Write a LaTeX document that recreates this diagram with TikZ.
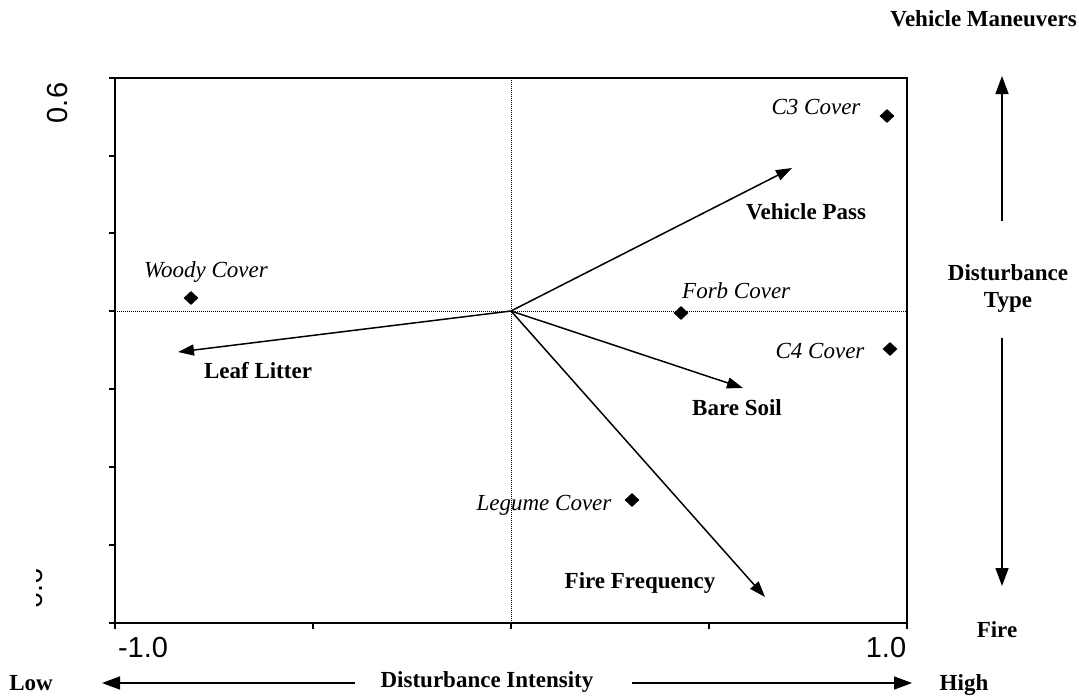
\documentclass[tikz,border=0pt]{standalone}
\usepackage{fontspec}
\setmainfont{Liberation Serif}
\newfontfamily\arialfont{Liberation Sans}
\usetikzlibrary{arrows.meta,shapes.geometric}
\begin{document}
\begin{tikzpicture}[x=1pt,y=-1pt,
  vec/.style={line width=1.5pt,-{Triangle[length=16pt,width=11pt]}},
  axarrow/.style={line width=1.5pt,-{Triangle[length=18pt,width=13pt]}},
  guide/.style={line width=0.8pt,dash pattern=on 1pt off 1pt},
  plotframe/.style={line width=1.8pt},
  tickmark/.style={line width=1.2pt},
  sitept/.style={diamond,fill=black,inner sep=0pt,minimum width=15pt,minimum height=14pt},
  sitelbl/.style={font=\fontsize{23}{26}\selectfont\itshape,anchor=base,inner sep=0pt},
  veclbl/.style={font=\fontsize{23}{26}\selectfont\bfseries,anchor=base,inner sep=0pt},
  sidelbl/.style={font=\fontsize{23}{27}\selectfont\bfseries,align=center,inner sep=0pt},
  ticklbl/.style={font=\arialfont\fontsize{29}{32}\selectfont,anchor=base,inner sep=0pt},
]
\useasboundingbox (0,0) rectangle (1079,696);
\coordinate (O) at (511,311);
% guide lines
\draw[guide] (115,311) -- (907,311);
\draw[guide] (511,78) -- (511,623);
% frame and ticks
\draw[plotframe] (115,78) rectangle (907,623);
\foreach \x in {115,313,511,709,907} \draw[tickmark] (\x,623) -- (\x,629);
\foreach \y in {78,156,233,311,389,467,545,623} \draw[tickmark] (109,\y) -- (115,\y);
% tick labels
\node[ticklbl] (xmin) at (143,657) {-1.0};
\node[ticklbl] (xmax) at (886,657) {1.0};
\node[ticklbl,rotate=90] (ytop) at (67,103) {0.6};
\begin{scope}
\clip (36,555) rectangle (60,630);
\node[ticklbl,rotate=90] (ybot) at (42,593) {-0.6};
\end{scope}
% vectors
\coordinate (LLtip) at (178,352);
\coordinate (VPtip) at (792,168);
\coordinate (BStip) at (743,388);
\coordinate (FFtip) at (765,597);
\draw[vec] (O) -- (LLtip);
\draw[vec] (O) -- (VPtip);
\draw[vec] (O) -- (BStip);
\draw[vec] (O) -- (FFtip);
\node[veclbl] (vp) at (806,219) {Vehicle Pass};
\node[veclbl] (ll) at (258,378) {Leaf Litter};
\node[veclbl,anchor=base west] (bs) at (692,415) {Bare Soil};
\node[veclbl] (ff) at (640,588) {Fire Frequency};
% sites
\node[sitept] (woody) at (191,298) {};
\node[sitept] (forb) at (681,313) {};
\node[sitept] (c3) at (887,116) {};
\node[sitept] (c4) at (890,349) {};
\node[sitept] (legume) at (632,500) {};
\node[sitelbl] (woodyl) at (206,277) {Woody Cover};
\node[sitelbl,anchor=base west] (forbl) at (682,298) {Forb Cover};
\node[sitelbl] (c3l) at (816,114) {C3 Cover};
\node[sitelbl] (c4l) at (820,358) {C4 Cover};
\node[sitelbl] (legumel) at (544,510) {Legume Cover};
% side axes
\coordinate (upS) at (1002,221);
\coordinate (upT) at (1002,76);
\coordinate (dnS) at (1002,338);
\coordinate (dnT) at (1002,586);
\draw[axarrow] (upS) -- (upT);
\draw[axarrow] (dnS) -- (dnT);
\coordinate (lS) at (355,683);
\coordinate (lT) at (102,683);
\coordinate (rS) at (632,683);
\coordinate (rT) at (912,683);
\draw[axarrow] (lS) -- (lT);
\draw[axarrow] (rS) -- (rT);
\node[veclbl,anchor=base east] (vm) at (1077,27) {Vehicle Maneuvers};
\node[sidelbl] (dtype) at (1008,288) {Disturbance\\Type};
\node[veclbl] (fire) at (997,637) {Fire};
\node[veclbl] (low) at (31,690) {Low};
\node[veclbl] (high) at (964,690) {High};
\node[veclbl] (dint) at (487,687) {Disturbance Intensity};
\end{tikzpicture}
\end{document}
